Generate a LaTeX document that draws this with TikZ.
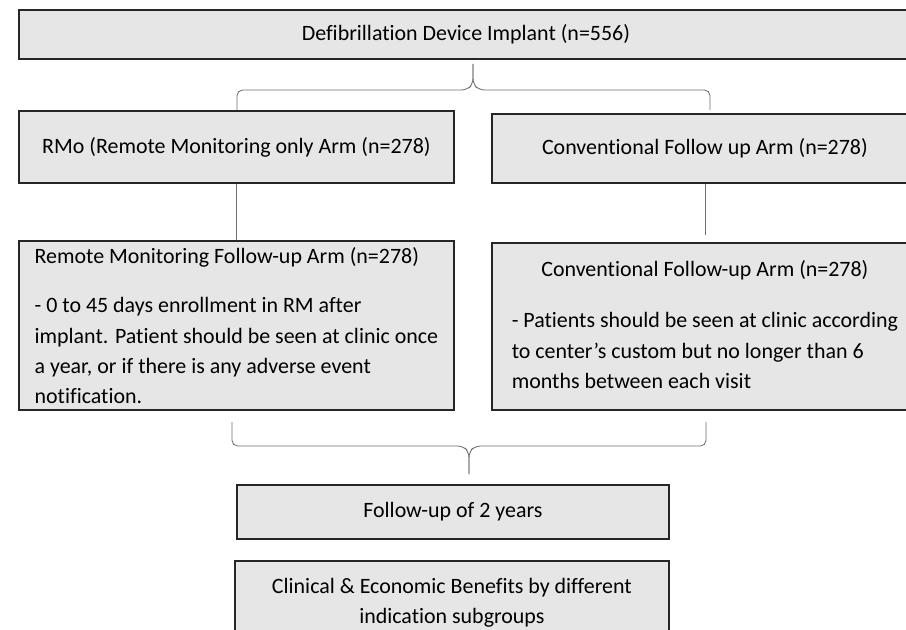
\documentclass[tikz,border=0pt]{standalone}
\usepackage{fontspec}
\setmainfont{Carlito}[Ligatures={TeX,NoCommon}]
\usetikzlibrary{calc}

\definecolor{boxfill}{HTML}{E7E6E6}
\definecolor{linegray}{HTML}{6E6E6E}
\newlength{\unitpx}
\setlength{\unitpx}{0.025cm}

\begin{document}
\begin{tikzpicture}[x=0.025cm, y=-0.025cm,
    every node/.style={font=\fontsize{15.6}{21.5}\selectfont},
    box/.style={draw=black!85, line width=1.3pt, fill=boxfill, anchor=north west, inner sep=0pt},
    link/.style={draw=linegray, line width=0.6pt}]
                \useasboundingbox (0,0) rectangle (906,630);
                \clip (0,0) rectangle (906,630);
                \node[box, minimum width=894*\unitpx, minimum height=49*\unitpx] (implant) at (18,9) {Defibrillation Device Implant (n=556)};
                \node[box, minimum width=435*\unitpx, minimum height=72*\unitpx] (rmo) at (18,110) {RMo (Remote Monitoring only Arm (n=278)};
                \node[box, minimum width=426*\unitpx, minimum height=69*\unitpx] (conv) at (491,113) {Conventional Follow up Arm (n=278)};
                \node[box, minimum width=435*\unitpx, minimum height=169*\unitpx, align=left] (rmfu) at (18,240) {Remote Monitoring Follow-up Arm (n=278)\\[14pt]
                    - 0 to 45 days enrollment in RM after\\
                    implant. Patient should be seen at clinic once\\
                    a year, or if there is any adverse event\\
                    notification.};
                \node[box, minimum width=426*\unitpx, minimum height=167*\unitpx] (convfu) at (491,242) {\begin{tabular}{@{}l@{}}
                    \multicolumn{1}{@{}c@{}}{Conventional Follow-up Arm (n=278)}\\[15pt]
                    - Patients should be seen at clinic according\\
                    to center's custom but no longer than 6\\
                    months between each visit
                    \end{tabular}};
                \node[box, minimum width=432*\unitpx, minimum height=54*\unitpx] (twoyears) at (236,484) {Follow-up of 2 years};
                \node[box, minimum width=434*\unitpx, inner ysep=12pt, text depth=40pt, align=center] (benefits) at (234,560) {Clinical \& Economic Benefits by different\\
                    indication subgroups};

                \coordinate (tipup) at (473,64);
                \coordinate (topL) at (237,110);
                \coordinate (topR) at (710,110);
                \coordinate (tipdown) at (469,474);
                \coordinate (botL) at (232,422);
                \coordinate (botR) at (706,422);
                \foreach \e/\m in {topL/467, topR/479} {
                    \draw[link, rounded corners=4pt] (\e) |- (\m,90) -- (473,84) -- (tipup);
                }
                \foreach \e/\m in {botL/463, botR/475} {
                    \draw[link, rounded corners=4pt] (\e) |- (\m,446) -- (469,452) -- (tipdown);
                }
                \draw[link] (rmo) -- (rmfu);
                \draw[link, shorten >=5pt] (conv) -- (convfu);
            \end{tikzpicture}
\end{document}
